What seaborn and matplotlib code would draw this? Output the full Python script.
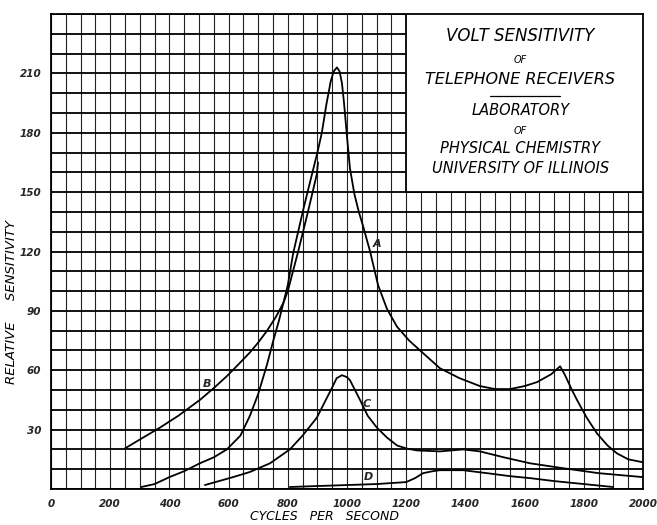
import matplotlib
matplotlib.use("Agg")
import matplotlib.pyplot as plt
import seaborn as sns
import numpy as np
from matplotlib.ticker import MultipleLocator
from matplotlib.patches import Rectangle

# curve A (starts near 300 c/s, big resonance near 966, second bump at 1720)
a_x = [305, 350, 400, 450, 503, 550, 594, 640, 672, 700, 716, 730, 751, 770, 785,
       800, 818, 835, 852, 870, 885, 900, 915, 930, 945, 955, 966, 975, 983, 990,
       1000, 1010, 1025, 1040, 1054, 1078, 1105, 1135, 1169, 1210, 1247, 1314,
       1380, 1449, 1500, 1551, 1600, 1642, 1690, 1720, 1735, 1760, 1777, 1810,
       1845, 1880, 1912, 1950, 2000]
a_y = [1, 2.5, 6, 9, 13, 16, 20, 27, 37, 48, 56, 63, 75, 85, 94,
       103, 119, 130, 141, 152, 161, 170, 180, 194, 206, 211, 213, 211, 205, 195,
       178, 162, 149, 140, 133, 120, 103, 91, 82, 75, 70, 61,
       56, 52, 50.5, 50.5, 52, 54, 58, 62, 58, 50, 45, 36,
       28, 22, 18, 15, 13.5]

# curve B
b_x = [250, 300, 368, 430, 503, 550, 594, 640, 672, 700, 730, 760, 785, 800,
       835, 868, 898, 902]
b_y = [20.5, 25, 31, 37, 45, 51, 57, 64, 69, 74, 80, 87, 94, 100,
       120, 140, 159, 165]

# curve C
c_x = [520, 615, 672, 740, 807, 850, 898, 925, 949, 965, 983, 1000, 1010, 1044,
       1070, 1101, 1135, 1169, 1200, 1236, 1314, 1392, 1449, 1530, 1618, 1730,
       1850, 2000]
c_y = [2, 6, 8.6, 13, 20, 27, 36, 44, 51, 56, 57.5, 56.5, 55, 45,
       37, 31, 26, 22, 20.5, 19.5, 19, 20, 19, 16, 13, 10.5,
       8, 6]

# curve D
d_x = [807, 900, 1000, 1100, 1200, 1230, 1257, 1290, 1314, 1392, 1473, 1550,
       1618, 1700, 1800, 1899]
d_y = [1, 1.5, 2, 2.5, 3.5, 5.5, 8, 9, 9.5, 9.5, 8, 6.5, 5.5, 4, 2.5, 1]

curve_labels = ["A", "B", "C", "D"]
label_x = [1101, 527, 1068, 1071]
label_y = [124, 53, 43, 6]

x_ticks = list(range(0, 2001, 200))
y_ticks = list(range(30, 211, 30))

title_lines = ["VOLT SENSITIVITY", "OF", "TELEPHONE RECEIVERS",
               "LABORATORY", "OF", "PHYSICAL CHEMISTRY", "UNIVERSITY OF ILLINOIS"]

sns.set_theme(style="white")
plt.rcParams['font.family'] = ['DejaVu Sans']

fig = plt.figure(figsize=(6.57, 5.25), dpi=100)
ax = fig.add_axes([51 / 657, 36 / 525, 592 / 657, 475 / 525])

for xs, ys in [(a_x, a_y), (b_x, b_y), (c_x, c_y), (d_x, d_y)]:
    sns.lineplot(x=xs, y=ys, ax=ax, color="black", linewidth=1.3, sort=False,
                 estimator=None, zorder=3)

for lab, lx, ly in zip(curve_labels, label_x, label_y):
    ax.text(lx, ly, lab, fontsize=8, fontstyle="italic", fontweight="bold",
            ha="center", va="center", zorder=4)

ax.set_xlim(0, 2000)
ax.set_ylim(0, 240)
ax.xaxis.set_major_locator(MultipleLocator(200))
ax.xaxis.set_minor_locator(MultipleLocator(50))
ax.yaxis.set_major_locator(MultipleLocator(30))
ax.yaxis.set_minor_locator(MultipleLocator(10))
ax.set_xticks(x_ticks)
ax.set_xticklabels([str(t) for t in x_ticks])
ax.set_yticks(y_ticks)
ax.set_yticklabels([str(t) for t in y_ticks])
ax.tick_params(which="both", length=0)
ax.tick_params(axis="x", pad=7, labelsize=7.5)
ax.tick_params(axis="y", pad=7, labelsize=7.5)
for lbl in ax.get_xticklabels() + ax.get_yticklabels():
    lbl.set_fontstyle("italic")
    lbl.set_fontweight("bold")
ax.get_xticklabels()[-1].set_horizontalalignment("center")

ax.grid(axis="x", which="both", color="#222222", linewidth=0.8, zorder=1)
ax.grid(axis="y", which="both", color="black", linewidth=1.3, zorder=1)
ax.set_axisbelow(True)
for s in ax.spines.values():
    s.set_color("black")
    s.set_linewidth(1.3)

# title panel in the upper right
ax.add_patch(Rectangle((1200, 150), 800, 90, facecolor="white", edgecolor="black",
                       linewidth=1.3, zorder=5))
title_y = [229, 217, 207, 191, 181, 172, 162]
title_size = [12, 7, 11.5, 10.5, 7, 10.5, 10.5]
for t, ty, fs in zip(title_lines, title_y, title_size):
    ax.text(1585, ty, t, fontsize=fs, fontstyle="italic", ha="center",
            va="center", color="black", zorder=6)
ax.plot([1483, 1720], [198.7, 198.7], color="black", linewidth=0.9, zorder=6)

ax.set_xlabel("")
ax.set_ylabel("")
fig.text(325 / 657, 1 - 517 / 525, "CYCLES   PER   SECOND", fontsize=9,
         fontstyle="italic", color="black", ha="center", va="center")
fig.text(12 / 657, 1 - 302 / 525, "RELATIVE     SENSITIVITY", fontsize=9.5,
         fontstyle="italic", color="black", rotation=90, ha="center", va="center")

fig.savefig("out.png", dpi=100, facecolor="white")
